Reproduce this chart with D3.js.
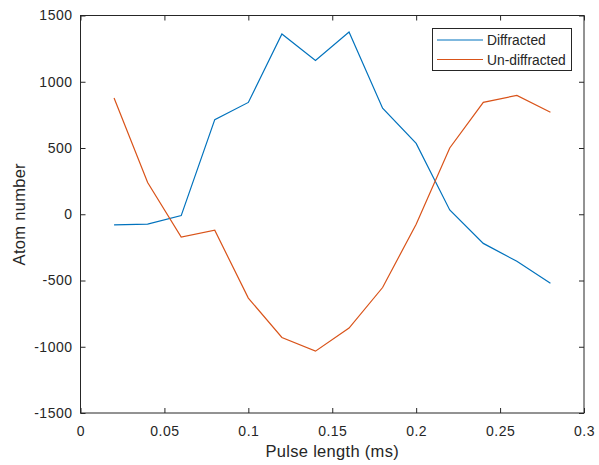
<!DOCTYPE html>
<html><head><meta charset="utf-8">
<script src="https://cdn.jsdelivr.net/npm/d3@7"></script>
<style>body{margin:0;background:#fff}svg{display:block}text{font-family:"Liberation Sans",Arial,sans-serif;fill:#262626}</style>
</head><body>
<svg id="c" width="599" height="465"></svg>
<script>
const pulse = [0.02,0.04,0.06,0.08,0.10,0.12,0.14,0.16,0.18,0.20,0.22,0.24,0.26,0.28];
const diffracted = [-80,-75,-10,714,844,1360,1160,1375,800,535,32,-220,-355,-520];
const undiffracted = [877,239,-173,-121,-633,-930,-1033,-859,-553,-75,500,845,897,770];
const xTicks = [0,0.05,0.1,0.15,0.2,0.25,0.3];
const yTicks = [-1500,-1000,-500,0,500,1000,1500];
const seriesNames = ["Diffracted","Un-diffracted"];
const colors = ["#0072BD","#D95319"];

const L=80.5,R=584,T=15.5,B=413;
const svg=d3.select("#c");
const x=d3.scaleLinear().domain([0,0.3]).range([L,R]);
const y=d3.scaleLinear().domain([-1500,1500]).range([B,T]);
const ax="#262626";
const fmt=d=>String(+d.toFixed(2));

svg.append("rect").attr("x",L).attr("y",T).attr("width",R-L).attr("height",B-T).attr("fill","none").attr("stroke",ax).attr("stroke-width",1);

const gB=svg.append("g").attr("transform",`translate(0,${B})`).call(d3.axisBottom(x).tickValues(xTicks).tickSizeInner(-5).tickSizeOuter(0).tickPadding(13).tickFormat(fmt));
const gT=svg.append("g").attr("transform",`translate(0,${T})`).call(d3.axisTop(x).tickValues(xTicks).tickSizeInner(-5).tickSizeOuter(0).tickFormat(""));
const gL=svg.append("g").attr("transform",`translate(${L},0)`).call(d3.axisLeft(y).tickValues(yTicks).tickSizeInner(-5).tickSizeOuter(0).tickPadding(8).tickFormat(d=>String(d)));
const gR=svg.append("g").attr("transform",`translate(${R},0)`).call(d3.axisRight(y).tickValues(yTicks).tickSizeInner(-5).tickSizeOuter(0).tickFormat(""));
[gB,gT,gL,gR].forEach(g=>{g.select(".domain").remove();g.selectAll("line").attr("stroke",ax);g.selectAll("text").attr("font-size",14).attr("letter-spacing",0.5).attr("fill",ax).style("font-family","'Liberation Sans',Arial,sans-serif");});

const line=d3.line().x((d,i)=>x(pulse[i])).y(d=>y(d));
[diffracted,undiffracted].forEach((s,k)=>{
  svg.append("path").datum(s).attr("d",line).attr("fill","none").attr("stroke",colors[k]).attr("stroke-width",1.2);
});

svg.append("text").attr("x",(L+R)/2).attr("y",457).attr("text-anchor","middle").attr("font-size",16.5).attr("letter-spacing",0.3).text("Pulse length (ms)");
svg.append("text").attr("transform",`translate(24.5,${(T+B)/2}) rotate(-90)`).attr("text-anchor","middle").attr("font-size",16.5).attr("letter-spacing",0.3).text("Atom number");

const lg=svg.append("g");
lg.append("rect").attr("x",432.5).attr("y",28.5).attr("width",139).attr("height",42).attr("fill","#fff").attr("stroke",ax).attr("stroke-width",1);
seriesNames.forEach((n,k)=>{
  const yy=40+k*19.5;
  lg.append("line").attr("x1",437).attr("x2",483).attr("y1",yy).attr("y2",yy).attr("stroke",colors[k]).attr("stroke-width",1.2);
  lg.append("text").attr("x",487).attr("y",yy+5).attr("font-size",13.8).text(n);
});
</script>
</body></html>
